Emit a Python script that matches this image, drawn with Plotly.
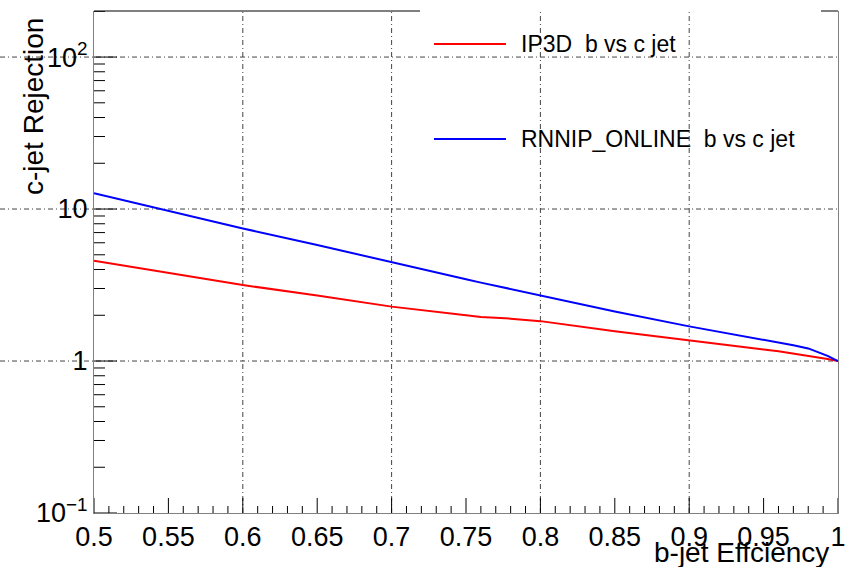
import plotly.graph_objects as go

# b-jet efficiency working points and the matching c-jet rejection
eff = [0.50, 0.55, 0.60, 0.65, 0.70, 0.75, 0.76, 0.78, 0.80, 0.85, 0.90, 0.95, 0.96, 0.97, 0.98, 0.986, 0.993, 1.00]
ip3d_rej = [4.57, 3.82, 3.16, 2.70, 2.28, 2.00, 1.95, 1.90, 1.83, 1.57, 1.36, 1.19, 1.16, 1.12, 1.09, 1.06, 1.03, 1.00]
rnnip_rej = [12.7, 9.7, 7.45, 5.8, 4.45, 3.45, 3.28, 2.98, 2.72, 2.12, 1.69, 1.38, 1.33, 1.27, 1.21, 1.15, 1.08, 1.00]

series_names = ["IP3D\u00a0 b vs c jet", "RNNIP_ONLINE\u00a0 b vs c jet"]
series_colors = ["#ff0000", "#0000ff"]

x_tick_vals = [0.5, 0.55, 0.6, 0.65, 0.7, 0.75, 0.8, 0.85, 0.9, 0.95, 1.0]
x_tick_text = ["0.5", "0.55", "0.6", "0.65", "0.7", "0.75", "0.8", "0.85", "0.9", "0.95", "1"]
x_minor_vals = [round(0.5 + 0.01 * i, 2) for i in range(51)]
x_grid_vals = [0.6, 0.7, 0.8, 0.9]

y_tick_vals = [0.1, 1, 10, 100]
y_tick_text = ["10<sup>\u22121</sup>", "1", "10", "10<sup>2</sup>"]
y_minor_vals = [m * d for d in (0.1, 1, 10, 100) for m in range(2, 10) if m * d <= 200]
y_grid_vals = [1, 10, 100]

W, H = 847, 567
ML, MR, MT, MB = 94, 9, 11, 54
PW, PH = W - ML - MR, H - MT - MB

FONT = "Liberation Sans, Arial, Helvetica, sans-serif"


def px_x(px):
    return (px - ML) / PW


def px_y(py):
    return 1 - (py - MT) / PH


fig = go.Figure()
for name, ys, col in zip(series_names, [ip3d_rej, rnnip_rej], series_colors):
    fig.add_trace(go.Scatter(x=eff, y=ys, mode="lines", name=name,
                             line=dict(color=col, width=2), showlegend=False))

shapes = []

# dash-dot grid
for gx in x_grid_vals:
    shapes.append(dict(type="line", xref="x", yref="paper", x0=gx, x1=gx, y0=0, y1=1,
                       line=dict(color="#444444", width=1, dash="5px,3px,1px,3px"), layer="below"))
for gy in y_grid_vals:
    shapes.append(dict(type="line", xref="paper", yref="y", x0=px_x(0), x1=px_x(840), y0=gy, y1=gy,
                       line=dict(color="#444444", width=1, dash="5px,3px,1px,3px"), layer="below"))

# inward tick marks along the bottom and left axes
for v in x_minor_vals:
    length = 15 if any(abs(v - t) < 1e-9 for t in x_tick_vals) else 7
    shapes.append(dict(type="line", xref="x", yref="paper", x0=v, x1=v, y0=0, y1=length / PH,
                       line=dict(color="black", width=1), layer="above"))
for v in y_tick_vals + y_minor_vals:
    length = 23 if v in y_tick_vals else 11
    shapes.append(dict(type="line", xref="paper", yref="y", x0=0, x1=length / PW, y0=v, y1=v,
                       line=dict(color="black", width=1), layer="above"))

# top edge of the frame, interrupted where the legend box sits
shapes.append(dict(type="line", xref="paper", yref="paper", x0=0, x1=px_x(420), y0=1, y1=1,
                   line=dict(color="black", width=1)))
shapes.append(dict(type="line", xref="paper", yref="paper", x0=px_x(821), x1=1, y0=1, y1=1,
                   line=dict(color="black", width=1)))

# legend entries
annotations = []
legend_rows = [44, 139]
for name, col, row in zip(series_names, series_colors, legend_rows):
    shapes.append(dict(type="line", xref="paper", yref="paper", x0=px_x(434), x1=px_x(506),
                       y0=px_y(row), y1=px_y(row), line=dict(color=col, width=2)))
    annotations.append(dict(text=name, xref="paper", yref="paper", x=px_x(519), y=px_y(row),
                            xanchor="left", yanchor="middle", showarrow=False,
                            font=dict(family=FONT, size=23, color="black")))

annotations.append(dict(text="c-jet Rejection", textangle=-90, xref="paper", yref="paper",
                        x=px_x(33), y=px_y(107), xanchor="center", yanchor="middle",
                        showarrow=False, font=dict(family=FONT, size=28, color="black")))
annotations.append(dict(text="b-jet Effciency", xref="paper", yref="paper",
                        x=px_x(831), y=px_y(552), xanchor="right", yanchor="middle",
                        showarrow=False, font=dict(family=FONT, size=28, color="black")))

fig.update_layout(
    width=W, height=H,
    margin=dict(l=ML, r=MR, t=MT, b=MB, pad=0, autoexpand=False),
    paper_bgcolor="white", plot_bgcolor="white",
    font=dict(family=FONT, color="black", size=27),
    shapes=shapes, annotations=annotations,
    xaxis=dict(range=[0.5, 1.0], tickmode="array", tickvals=x_tick_vals, ticktext=x_tick_text,
               ticks="", showline=True, linecolor="#808080", linewidth=1,
               showgrid=False, zeroline=False, automargin=False,
               tickfont=dict(family=FONT, size=27, color="black")),
    yaxis=dict(type="log", range=[-1, 2.303], tickmode="array", tickvals=y_tick_vals,
               ticktext=y_tick_text, ticks="", showline=True, linecolor="#808080",
               linewidth=1, mirror=True, showgrid=False, zeroline=False, automargin=False,
               tickfont=dict(family=FONT, size=27, color="black")),
)

fig.write_html("out.html")
